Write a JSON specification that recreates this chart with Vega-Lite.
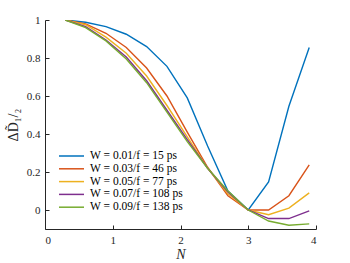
{
  "$schema": "https://vega.github.io/schema/vega-lite/v6.json",
  "autosize": {"type": "none"},
  "padding": {"left": 45, "top": 20, "right": 34, "bottom": 34},
  "width": 271,
  "height": 209,
  "background": "white",
  "config": {
    "view": {"stroke": null},
    "font": "Liberation Serif"
  },
  "data": {
    "values": [
      {"N": 0.3, "s": "W = 0.01/f = 15 ps", "v": 1.0},
      {"N": 0.6, "s": "W = 0.01/f = 15 ps", "v": 0.988},
      {"N": 0.9, "s": "W = 0.01/f = 15 ps", "v": 0.965},
      {"N": 1.2, "s": "W = 0.01/f = 15 ps", "v": 0.925},
      {"N": 1.5, "s": "W = 0.01/f = 15 ps", "v": 0.86},
      {"N": 1.8, "s": "W = 0.01/f = 15 ps", "v": 0.756},
      {"N": 2.1, "s": "W = 0.01/f = 15 ps", "v": 0.59},
      {"N": 2.4, "s": "W = 0.01/f = 15 ps", "v": 0.337},
      {"N": 2.7, "s": "W = 0.01/f = 15 ps", "v": 0.1},
      {"N": 3.0, "s": "W = 0.01/f = 15 ps", "v": 0.0},
      {"N": 3.3, "s": "W = 0.01/f = 15 ps", "v": 0.148},
      {"N": 3.6, "s": "W = 0.01/f = 15 ps", "v": 0.546},
      {"N": 3.9, "s": "W = 0.01/f = 15 ps", "v": 0.855},
      {"N": 0.3, "s": "W = 0.03/f = 46 ps", "v": 1.0},
      {"N": 0.6, "s": "W = 0.03/f = 46 ps", "v": 0.98},
      {"N": 0.9, "s": "W = 0.03/f = 46 ps", "v": 0.93},
      {"N": 1.2, "s": "W = 0.03/f = 46 ps", "v": 0.855},
      {"N": 1.5, "s": "W = 0.03/f = 46 ps", "v": 0.747},
      {"N": 1.8, "s": "W = 0.03/f = 46 ps", "v": 0.6},
      {"N": 2.1, "s": "W = 0.03/f = 46 ps", "v": 0.41},
      {"N": 2.4, "s": "W = 0.03/f = 46 ps", "v": 0.225},
      {"N": 2.7, "s": "W = 0.03/f = 46 ps", "v": 0.075},
      {"N": 3.0, "s": "W = 0.03/f = 46 ps", "v": 0.0},
      {"N": 3.3, "s": "W = 0.03/f = 46 ps", "v": 0.0},
      {"N": 3.6, "s": "W = 0.03/f = 46 ps", "v": 0.075},
      {"N": 3.9, "s": "W = 0.03/f = 46 ps", "v": 0.237},
      {"N": 0.3, "s": "W = 0.05/f = 77 ps", "v": 1.0},
      {"N": 0.6, "s": "W = 0.05/f = 77 ps", "v": 0.975},
      {"N": 0.9, "s": "W = 0.05/f = 77 ps", "v": 0.91},
      {"N": 1.2, "s": "W = 0.05/f = 77 ps", "v": 0.825},
      {"N": 1.5, "s": "W = 0.05/f = 77 ps", "v": 0.705},
      {"N": 1.8, "s": "W = 0.05/f = 77 ps", "v": 0.55},
      {"N": 2.1, "s": "W = 0.05/f = 77 ps", "v": 0.385},
      {"N": 2.4, "s": "W = 0.05/f = 77 ps", "v": 0.22},
      {"N": 2.7, "s": "W = 0.05/f = 77 ps", "v": 0.085},
      {"N": 3.0, "s": "W = 0.05/f = 77 ps", "v": 0.0},
      {"N": 3.3, "s": "W = 0.05/f = 77 ps", "v": -0.025},
      {"N": 3.6, "s": "W = 0.05/f = 77 ps", "v": 0.01},
      {"N": 3.9, "s": "W = 0.05/f = 77 ps", "v": 0.09},
      {"N": 0.3, "s": "W = 0.07/f = 108 ps", "v": 1.0},
      {"N": 0.6, "s": "W = 0.07/f = 108 ps", "v": 0.965},
      {"N": 0.9, "s": "W = 0.07/f = 108 ps", "v": 0.895},
      {"N": 1.2, "s": "W = 0.07/f = 108 ps", "v": 0.805},
      {"N": 1.5, "s": "W = 0.07/f = 108 ps", "v": 0.68},
      {"N": 1.8, "s": "W = 0.07/f = 108 ps", "v": 0.525},
      {"N": 2.1, "s": "W = 0.07/f = 108 ps", "v": 0.37},
      {"N": 2.4, "s": "W = 0.07/f = 108 ps", "v": 0.22},
      {"N": 2.7, "s": "W = 0.07/f = 108 ps", "v": 0.095},
      {"N": 3.0, "s": "W = 0.07/f = 108 ps", "v": 0.0},
      {"N": 3.3, "s": "W = 0.07/f = 108 ps", "v": -0.045},
      {"N": 3.6, "s": "W = 0.07/f = 108 ps", "v": -0.045},
      {"N": 3.9, "s": "W = 0.07/f = 108 ps", "v": -0.005},
      {"N": 0.3, "s": "W = 0.09/f = 138 ps", "v": 1.0},
      {"N": 0.6, "s": "W = 0.09/f = 138 ps", "v": 0.96},
      {"N": 0.9, "s": "W = 0.09/f = 138 ps", "v": 0.89},
      {"N": 1.2, "s": "W = 0.09/f = 138 ps", "v": 0.795},
      {"N": 1.5, "s": "W = 0.09/f = 138 ps", "v": 0.67},
      {"N": 1.8, "s": "W = 0.09/f = 138 ps", "v": 0.515},
      {"N": 2.1, "s": "W = 0.09/f = 138 ps", "v": 0.36},
      {"N": 2.4, "s": "W = 0.09/f = 138 ps", "v": 0.22},
      {"N": 2.7, "s": "W = 0.09/f = 138 ps", "v": 0.1},
      {"N": 3.0, "s": "W = 0.09/f = 138 ps", "v": 0.0},
      {"N": 3.3, "s": "W = 0.09/f = 138 ps", "v": -0.058},
      {"N": 3.6, "s": "W = 0.09/f = 138 ps", "v": -0.08},
      {"N": 3.9, "s": "W = 0.09/f = 138 ps", "v": -0.073}
    ]
  },
  "mark": {"type": "line", "strokeWidth": 1.4, "clip": true},
  "encoding": {
    "x": {
      "field": "N", "type": "quantitative",
      "scale": {"domain": [0, 4], "nice": false, "zero": false},
      "axis": {
        "title": "N", "titleFontStyle": "italic", "titleFontWeight": "normal", "titleFontSize": 14, "titleColor": "#262626", "titlePadding": 2,
        "values": [0, 1, 2, 3, 4], "format": "d",
        "grid": false, "tickSize": -4, "labelPadding": 9,
        "domainColor": "#262626", "tickColor": "#262626",
        "labelColor": "#262626", "labelFontSize": 11, "labelFont": "Liberation Serif"
      }
    },
    "y": {
      "field": "v", "type": "quantitative",
      "scale": {"domain": [-0.1, 1], "nice": false, "zero": false},
      "axis": {
        "title": "ΔD̃₁/₂", "titleFontWeight": "normal", "titleFontSize": 14, "titleColor": "#262626", "titlePadding": 6,
        "values": [0, 0.2, 0.4, 0.6, 0.8, 1], "format": "~g",
        "grid": false, "tickSize": -4, "labelPadding": 9,
        "domainColor": "#262626", "tickColor": "#262626",
        "labelColor": "#262626", "labelFontSize": 11, "labelFont": "Liberation Serif"
      }
    },
    "color": {
      "field": "s", "type": "nominal",
      "sort": ["W = 0.01/f = 15 ps", "W = 0.03/f = 46 ps", "W = 0.05/f = 77 ps", "W = 0.07/f = 108 ps", "W = 0.09/f = 138 ps"],
      "scale": {"range": ["#0072BD", "#D95319", "#EDB120", "#7E2F8E", "#77AC30"]},
      "legend": {
        "title": null, "orient": "none", "legendX": 20.5, "legendY": 130,
        "symbolType": "M-2.5,0H2.5", "symbolSize": 100, "symbolStrokeWidth": 1.5,
        "labelFontSize": 11.5, "labelFont": "Liberation Serif", "labelColor": "#000000",
        "rowPadding": 0.8, "labelOffset": 12.5, "symbolOffset": 0
      }
    }
  }
}
